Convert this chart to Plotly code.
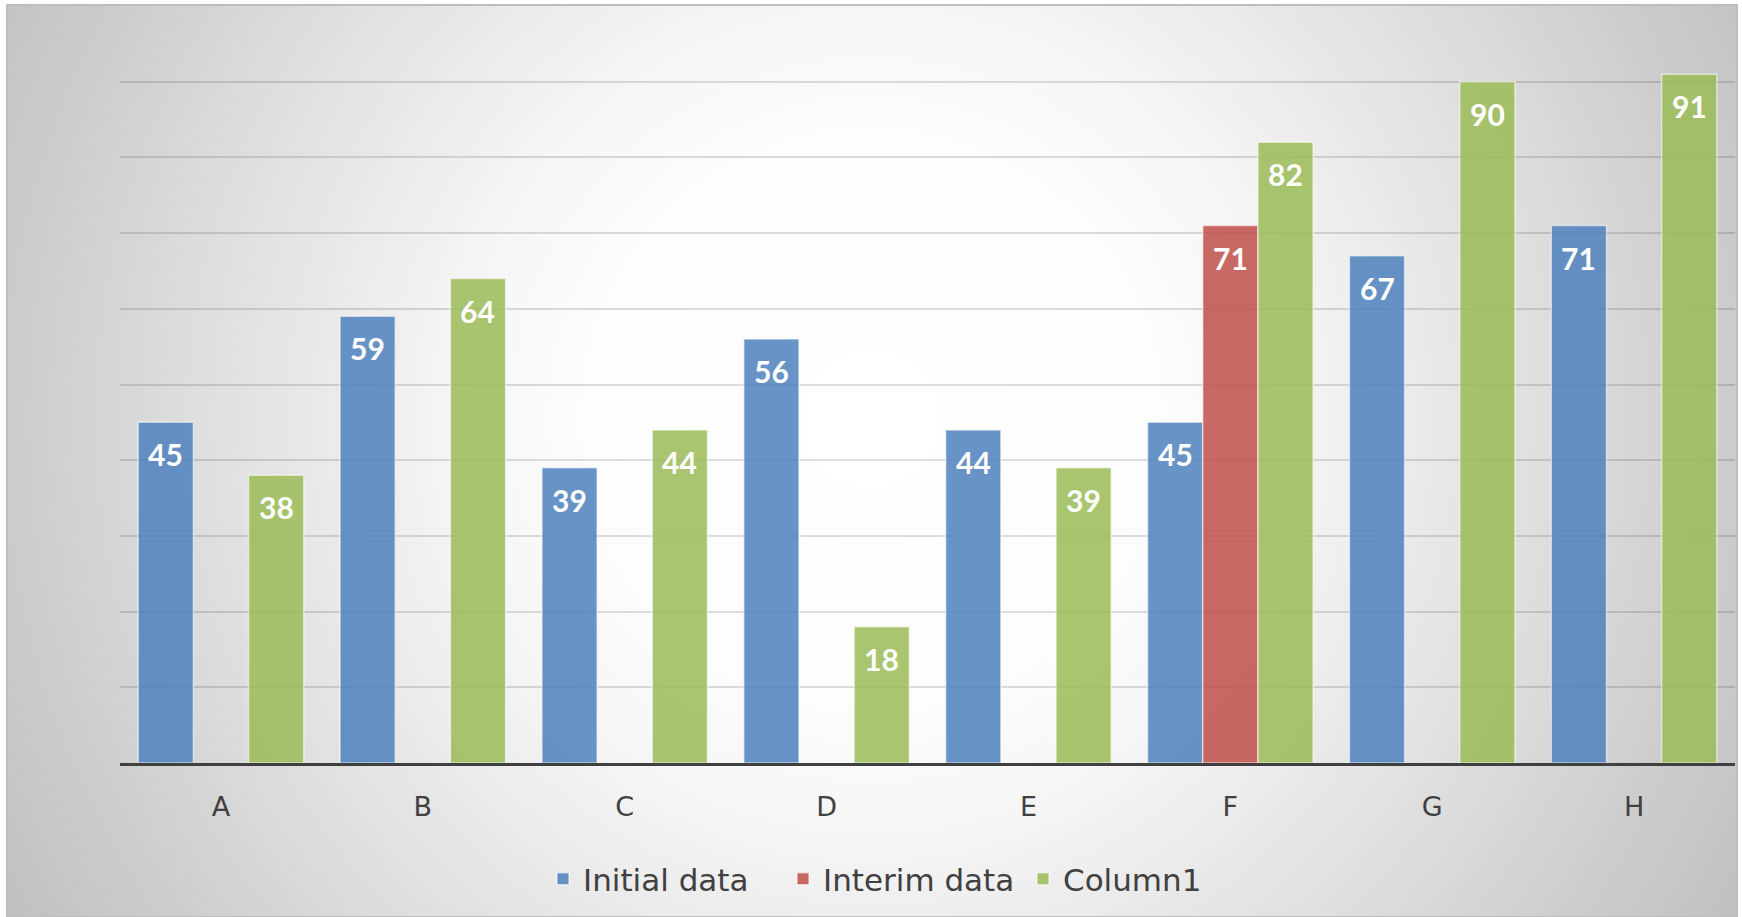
import base64
import plotly.graph_objects as go

# ---- data ----
categories = ["A", "B", "C", "D", "E", "F", "G", "H"]
initial_data = [45, 59, 39, 56, 44, 45, 67, 71]
interim_data = [None, None, None, None, None, 71, None, None]
column1 = [38, 64, 44, 18, 39, 82, 90, 91]

series = [
    ("Initial data", initial_data, "rgba(79,129,189,0.86)"),
    ("Interim data", interim_data, "rgba(192,80,77,0.86)"),
    ("Column1", column1, "rgba(155,187,89,0.86)"),
]

LABEL_FONT = "Lato"
TEXT_FONT = "DejaVu Sans"
TEXT_GREY = "#404040"

W, H = 1742, 917
L, R, T, B = 120, 7, 6, 154
plot_w = W - L - R
plot_h = H - T - B

BARGAP = 0.18

fig = go.Figure()
for name, vals, color in series:
    fig.add_trace(go.Bar(
        name=name,
        x=categories,
        y=vals,
        marker=dict(color=color, line=dict(color="rgba(255,255,255,0.55)", width=1.5)),
    ))

# value labels just inside the top of each bar
n_series = len(series)
bar_w = (1 - BARGAP) / n_series
for s, (name, vals, color) in enumerate(series):
    offset = (s - (n_series - 1) / 2) * bar_w
    for i, v in enumerate(vals):
        if v is None:
            continue
        fig.add_annotation(
            x=i + offset, y=v, xref="x", yref="y",
            text=str(v), showarrow=False,
            yanchor="middle", yshift=-32,
            font=dict(family=LABEL_FONT, size=30, color="white", weight="bold"),
        )

# radial grey-to-white chart background
chart_x0, chart_y0, chart_x1, chart_y1 = 7, 5, 1737, 917
cw, ch = chart_x1 - chart_x0, chart_y1 - chart_y0
stops = [(0.0, 255), (0.3, 252), (0.42, 245), (0.5, 238), (0.7, 220), (0.85, 205), (1.0, 192)]
stop_xml = "".join(
    f"<stop offset='{o}' stop-color='rgb({v},{v},{v})'/>" for o, v in stops
)
svg = (
    f"<svg xmlns='http://www.w3.org/2000/svg' width='{cw}' height='{ch}' "
    f"viewBox='0 0 {cw} {ch}' preserveAspectRatio='none'>"
    f"<defs><radialGradient id='g' gradientUnits='userSpaceOnUse' cx='{cw/2}' cy='415' r='1000'>"
    f"{stop_xml}</radialGradient></defs>"
    f"<rect width='{cw}' height='{ch}' fill='url(#g)'/></svg>"
)
src = "data:image/svg+xml;base64," + base64.b64encode(svg.encode()).decode()


def px_to_paper_x(px):
    return (px - L) / plot_w


def px_to_paper_y(py):
    return (H - B - py) / plot_h


fig.add_layout_image(dict(
    source=src, xref="paper", yref="paper",
    x=px_to_paper_x(chart_x0), y=px_to_paper_y(chart_y0),
    sizex=cw / plot_w, sizey=ch / plot_h,
    xanchor="left", yanchor="top", sizing="stretch", layer="below",
))

fig.add_shape(
    type="rect", xref="paper", yref="paper",
    x0=px_to_paper_x(chart_x0), x1=px_to_paper_x(chart_x1),
    y0=px_to_paper_y(chart_y1), y1=px_to_paper_y(chart_y0),
    line=dict(color="#BDBDBD", width=2), layer="below",
)

fig.update_layout(
    width=W, height=H,
    margin=dict(l=L, r=R, t=T, b=B),
    paper_bgcolor="white",
    plot_bgcolor="rgba(0,0,0,0)",
    barmode="group",
    bargap=BARGAP,
    bargroupgap=0,
    font=dict(family=TEXT_FONT, color=TEXT_GREY),
    showlegend=True,
    legend=dict(
        orientation="h", x=px_to_paper_x(903), xanchor="center",
        y=px_to_paper_y(879), yanchor="middle",
        font=dict(family=TEXT_FONT, size=31, color=TEXT_GREY),
        bgcolor="rgba(0,0,0,0)", traceorder="normal",
        entrywidth=195, entrywidthmode="pixels",
    ),
)

fig.update_xaxes(
    showline=True, linecolor="#404040", linewidth=3,
    showgrid=False, ticks="", ticklabelstandoff=18,
    tickfont=dict(family=TEXT_FONT, size=27, color=TEXT_GREY),
)
fig.update_yaxes(
    range=[0, 100], dtick=10, showticklabels=False,
    showgrid=True, gridcolor="rgba(0,0,0,0.13)", gridwidth=2,
    zeroline=False,
)

fig.write_html("out.html")
